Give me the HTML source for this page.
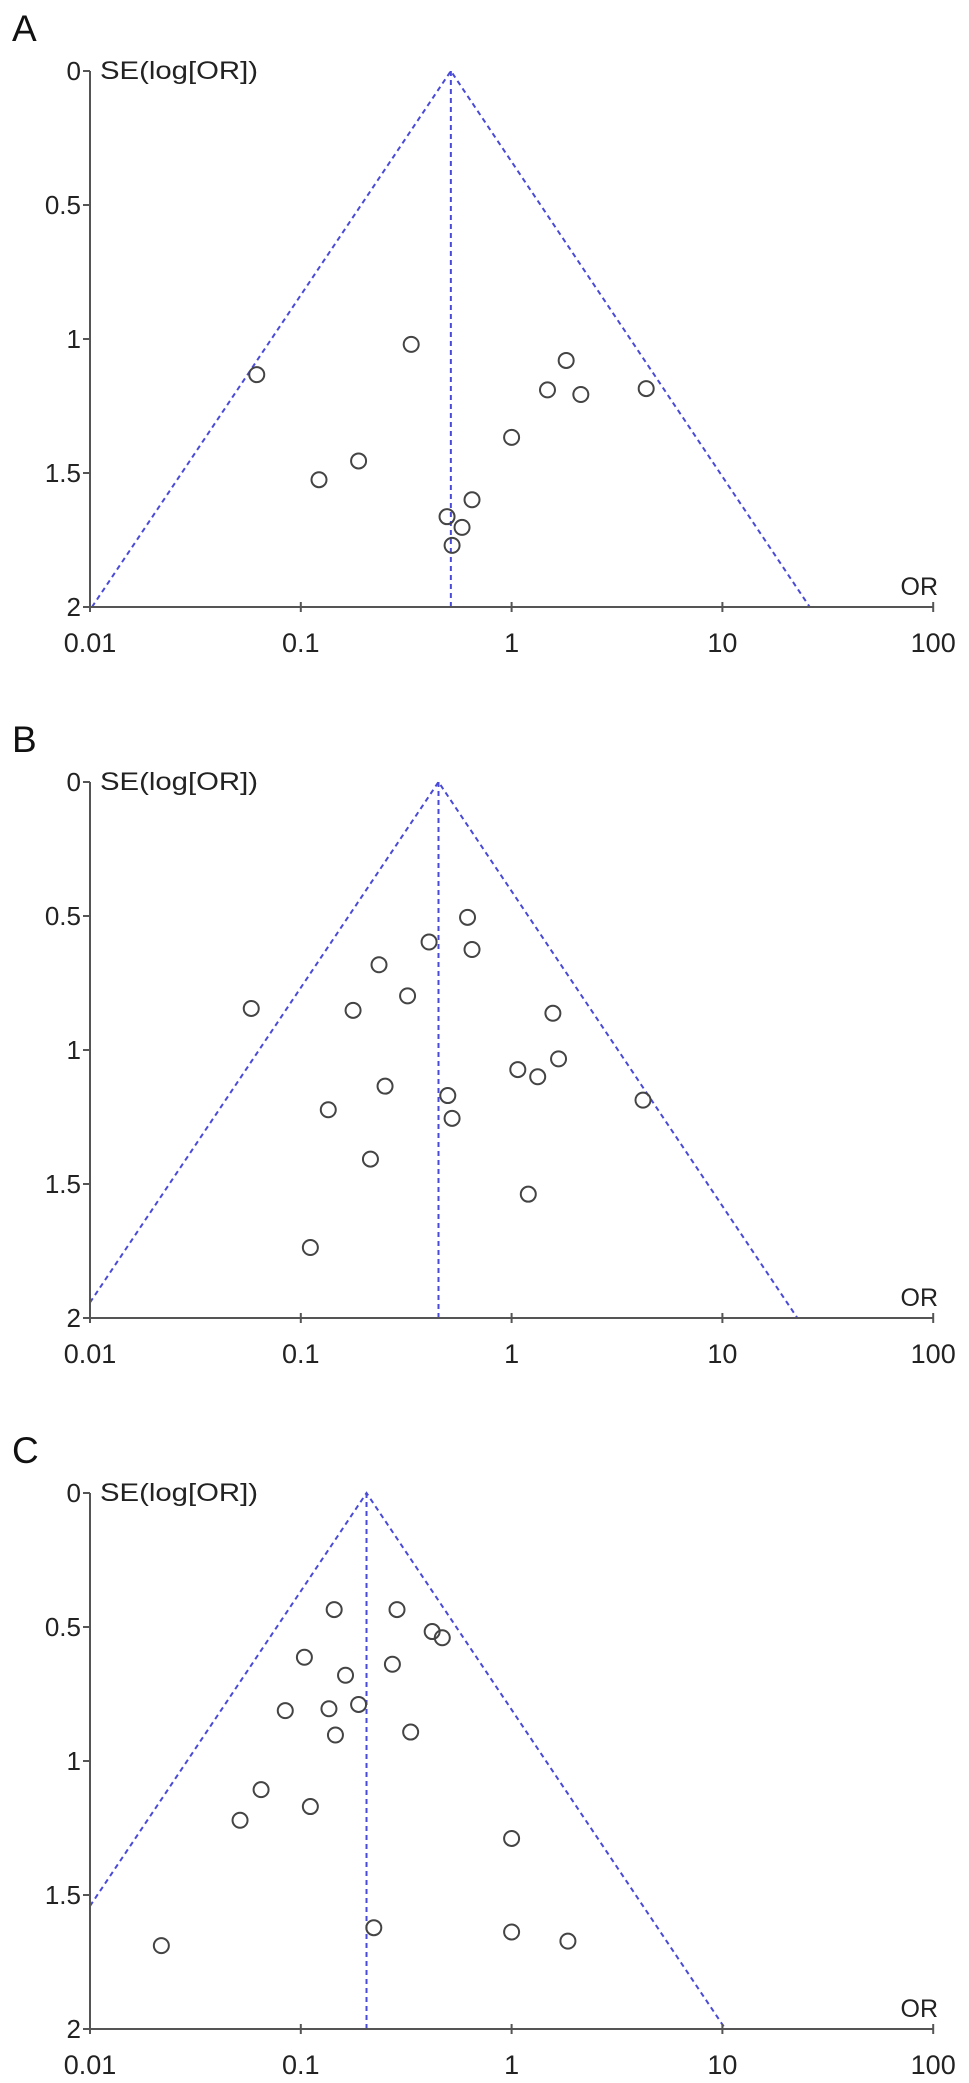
<!DOCTYPE html>
<html><head><meta charset="utf-8"><style>
html,body{margin:0;padding:0;background:#fff;}
svg{display:block;font-family:"Liberation Sans",Arial,sans-serif;}
</style></head><body>
<svg id="chart" width="969" height="2083" viewBox="0 0 969 2083"></svg>
<script>
const panelLabels = ["A","B","C"];
const pooledOR = [0.515, 0.45, 0.205];
const orA = [0.0618,0.334,0.122,0.188,1.815,1.48,2.13,4.35,1.0,0.649,0.494,0.582,0.522];
const seA = [1.133,1.02,1.525,1.455,1.08,1.19,1.207,1.185,1.367,1.6,1.663,1.703,1.77];
const orB = [0.618,0.406,0.649,0.235,0.321,0.0582,0.177,1.57,1.67,1.07,1.33,4.2,0.251,0.498,0.522,0.135,0.214,1.2,0.111];
const seB = [0.505,0.597,0.625,0.682,0.798,0.845,0.852,0.863,1.033,1.073,1.1,1.187,1.135,1.17,1.255,1.223,1.407,1.538,1.737];
const orC = [0.144,0.286,0.42,0.469,0.104,0.272,0.163,0.188,0.136,0.0844,0.332,0.146,0.0648,0.111,0.0515,1.0,0.222,1.0,1.85,0.0218];
const seC = [0.435,0.435,0.517,0.54,0.613,0.639,0.68,0.789,0.805,0.812,0.892,0.903,1.107,1.17,1.221,1.289,1.622,1.638,1.672,1.689];
const xTicks = [0.01,0.1,1,10,100];
const xTickLabels = ["0.01","0.1","1","10","100"];
const yTicks = [0,0.5,1,1.5,2];
const yTickLabels = ["0","0.5","1","1.5","2"];

const NS="http://www.w3.org/2000/svg";
const svg=document.getElementById('chart');
function mk(tag,attrs,parent){const e=document.createElementNS(NS,tag);for(const k in attrs)e.setAttribute(k,attrs[k]);(parent||svg).appendChild(e);return e;}
const X0=90, DEC=210.8, PY=268;
function xs(or){return X0+(Math.log10(or)+2)*DEC;}
const ORS=[orA,orB,orC], SES=[seA,seB,seC];

for(let p=0;p<3;p++){
  const off=p*711, y0=71+off;
  function ys(se){return y0+se*PY;}
  const g=mk('g',{});
  
  
  const pl=mk('text',{x:12,y:41+off,'font-size':37,fill:'#111'},g);pl.textContent=panelLabels[p];
  
  
  const L2=Math.log10(pooledOR[p]); const k=1.96/Math.LN10;
  function clipSE(target){return Math.min(2,Math.abs(L2-target)/k);}
  const seL=clipSE(-2), seR=clipSE(2);
  const fl=mk('polyline',{points:`${xs(Math.pow(10,L2-k*seL))},${ys(seL)} ${xs(pooledOR[p])},${ys(0)} ${xs(Math.pow(10,L2+k*seR))},${ys(seR)}`,fill:'none',stroke:'#4a4ad8','stroke-width':2,'stroke-dasharray':'5,4'},g);
  
  
  const vl=mk('line',{x1:xs(pooledOR[p]),y1:ys(0),x2:xs(pooledOR[p]),y2:ys(2),stroke:'#4a4ad8','stroke-width':2,'stroke-dasharray':'5,4'},g);
  
  
  const ya=mk('line',{x1:X0,y1:ys(0),x2:X0,y2:ys(2),stroke:'#555','stroke-width':2},g);
  
  
  const xa=mk('line',{x1:X0,y1:ys(2),x2:xs(100),y2:ys(2),stroke:'#555','stroke-width':2},g);
  
  
  yTicks.forEach((t,i)=>{
    mk('line',{x1:X0-7,y1:ys(t),x2:X0,y2:ys(t),stroke:'#555','stroke-width':2},g);
    const tx=mk('text',{x:X0-9,y:ys(t)+9,'font-size':26,'text-anchor':'end',fill:'#222'},g);tx.textContent=yTickLabels[i];
    
    
  });
  xTicks.forEach((t,i)=>{
    mk('line',{x1:xs(t),y1:ys(2)-5,x2:xs(t),y2:ys(2)+5,stroke:'#555','stroke-width':2},g);
    const tx=mk('text',{x:xs(t),y:ys(2)+45,'font-size':27,'text-anchor':'middle',fill:'#222'},g);tx.textContent=xTickLabels[i];
    
    
  });
  const yt=mk('text',{x:100,y:y0+8,'font-size':25,fill:'#222',textLength:158,lengthAdjust:'spacingAndGlyphs'},g);yt.textContent='SE(log[OR])';
  
  
  const xt=mk('text',{x:938,y:ys(2)-12,'font-size':25,'text-anchor':'end',fill:'#222'},g);xt.textContent='OR';
  
  
  ORS[p].forEach((or,i)=>{
    const c=mk('circle',{cx:xs(or),cy:ys(SES[p][i]),r:7.5,fill:'none',stroke:'#444','stroke-width':2},g);
    
    
  });
}
</script>
</body></html>
